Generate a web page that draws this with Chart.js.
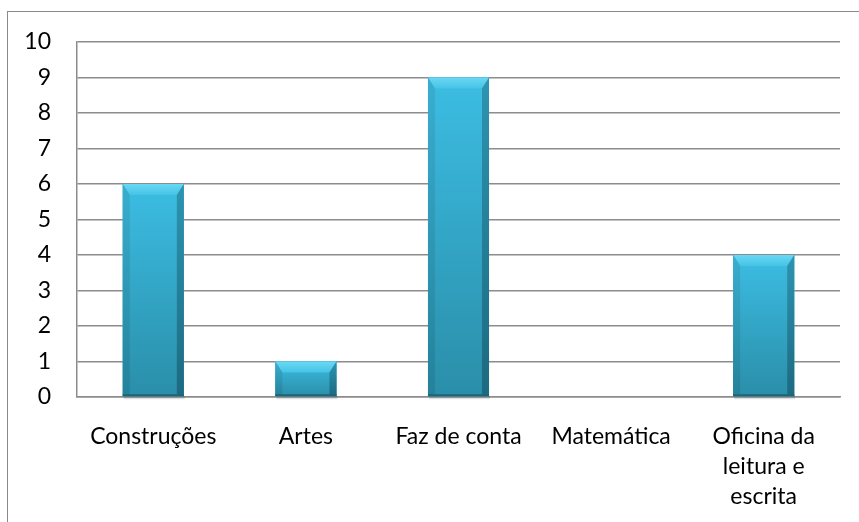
<!DOCTYPE html>
<html>
<head>
<meta charset="utf-8">
<script src="https://cdn.jsdelivr.net/npm/chart.js@4"></script>
<style>
  html, body { margin: 0; padding: 0; background: #fff; }
  #wrap { position: relative; width: 859px; height: 522px; overflow: hidden; }
  #frame { position: absolute; left: 7px; top: 11px; width: 900px; height: 600px;
           border-left: 1.5px solid #8a8a8a; border-top: 1.5px solid #8a8a8a; }
  canvas { position: absolute; left: 0; top: 0; }
</style>
</head>
<body>
<div id="wrap">
  <div id="frame"></div>
  <canvas id="barChart" width="859" height="522"></canvas>
</div>
<script>
// ------------------ Data ------------------
const categories = [
    "Construções",
    "Artes",
    "Faz de conta",
    "Matemática",
    ["Oficina da", "leitura e", "escrita"]
];
const values = [6, 1, 9, 0, 4];
const yTicks = [0, 1, 2, 3, 4, 5, 6, 7, 8, 9, 10];

const FONT = "Lato, 'Noto Sans', sans-serif";
const GRID = "#8c8c8c";

// Excel style bevel drawn over each bar
const bevelPlugin = {
    id: "bevel",
    afterDatasetsDraw(chart) {
        const ctx = chart.ctx;
        chart.getDatasetMeta(0).data.forEach(bar => {
            const left = bar.x - bar.width / 2;
            const right = bar.x + bar.width / 2;
            const top = bar.y;
            const bottom = bar.base;
            const h = bottom - top;
            if (h < 1) return;
            const b = Math.min(11, h / 2);
            const s = 7;
            ctx.save();
            // soft shadow under the bar
            ctx.fillStyle = "rgba(0,0,0,0.12)";
            ctx.fillRect(left + 1, bottom, right - left, 3);
            // body
            const g = ctx.createLinearGradient(0, top, 0, bottom);
            g.addColorStop(0, "#3cbde3");
            g.addColorStop(1, "#2a8ea9");
            ctx.fillStyle = g;
            ctx.fillRect(left, top, right - left, h);
            // top bevel
            const gt = ctx.createLinearGradient(0, top, 0, top + b);
            gt.addColorStop(0, "#6ad8f4");
            gt.addColorStop(1, "#45c3e6");
            ctx.fillStyle = gt;
            ctx.beginPath();
            ctx.moveTo(left, top); ctx.lineTo(right, top);
            ctx.lineTo(right - s, top + b); ctx.lineTo(left + s, top + b);
            ctx.closePath(); ctx.fill();
            // left bevel
            const gl = ctx.createLinearGradient(0, top, 0, bottom);
            gl.addColorStop(0, "#3aaed0");
            gl.addColorStop(1, "#24819a");
            ctx.fillStyle = gl;
            ctx.beginPath();
            ctx.moveTo(left, top); ctx.lineTo(left + s, top + b);
            ctx.lineTo(left + s, bottom - 2); ctx.lineTo(left, bottom);
            ctx.closePath(); ctx.fill();
            // right bevel
            const gr = ctx.createLinearGradient(0, top, 0, bottom);
            gr.addColorStop(0, "#2d94b2");
            gr.addColorStop(1, "#1c6a80");
            ctx.fillStyle = gr;
            ctx.beginPath();
            ctx.moveTo(right, top); ctx.lineTo(right - s, top + b);
            ctx.lineTo(right - s, bottom - 2); ctx.lineTo(right, bottom);
            ctx.closePath(); ctx.fill();
            // bottom edge
            ctx.fillStyle = "#1d6478";
            ctx.fillRect(left, bottom - 2, right - left, 2);
            ctx.restore();
        });
    }
};

new Chart(document.getElementById("barChart"), {
    type: "bar",
    data: {
        labels: categories,
        datasets: [{
            data: values,
            backgroundColor: "#33a6c8",
            borderWidth: 0,
            barPercentage: 0.4,
            categoryPercentage: 1.0
        }]
    },
    plugins: [bevelPlugin],
    options: {
        responsive: false,
        animation: false,
        layout: { padding: { left: 0, top: 42, right: 19, bottom: 0 } },
        plugins: {
            legend: { display: false },
            tooltip: { enabled: false }
        },
        scales: {
            x: {
                grid: { display: false, drawTicks: false },
                border: { display: true, color: GRID, width: 1.5 },
                ticks: {
                    color: "#000",
                    font: { family: FONT, size: 23, lineHeight: 1.3 },
                    padding: 25,
                    maxRotation: 0,
                    autoSkip: false
                },
                afterFit(scale) { scale.height = 125; }
            },
            y: {
                min: 0,
                max: 10,
                afterBuildTicks(scale) { scale.ticks = yTicks.map(v => ({ value: v })); },
                grid: { color: GRID, lineWidth: 1.5, drawTicks: false },
                border: { display: true, color: GRID, width: 1.5 },
                ticks: {
                    color: "#000",
                    font: { family: FONT, size: 23 },
                    padding: 26
                },
                afterFit(scale) { scale.width = 77; }
            }
        }
    }
});
</script>
</body>
</html>
